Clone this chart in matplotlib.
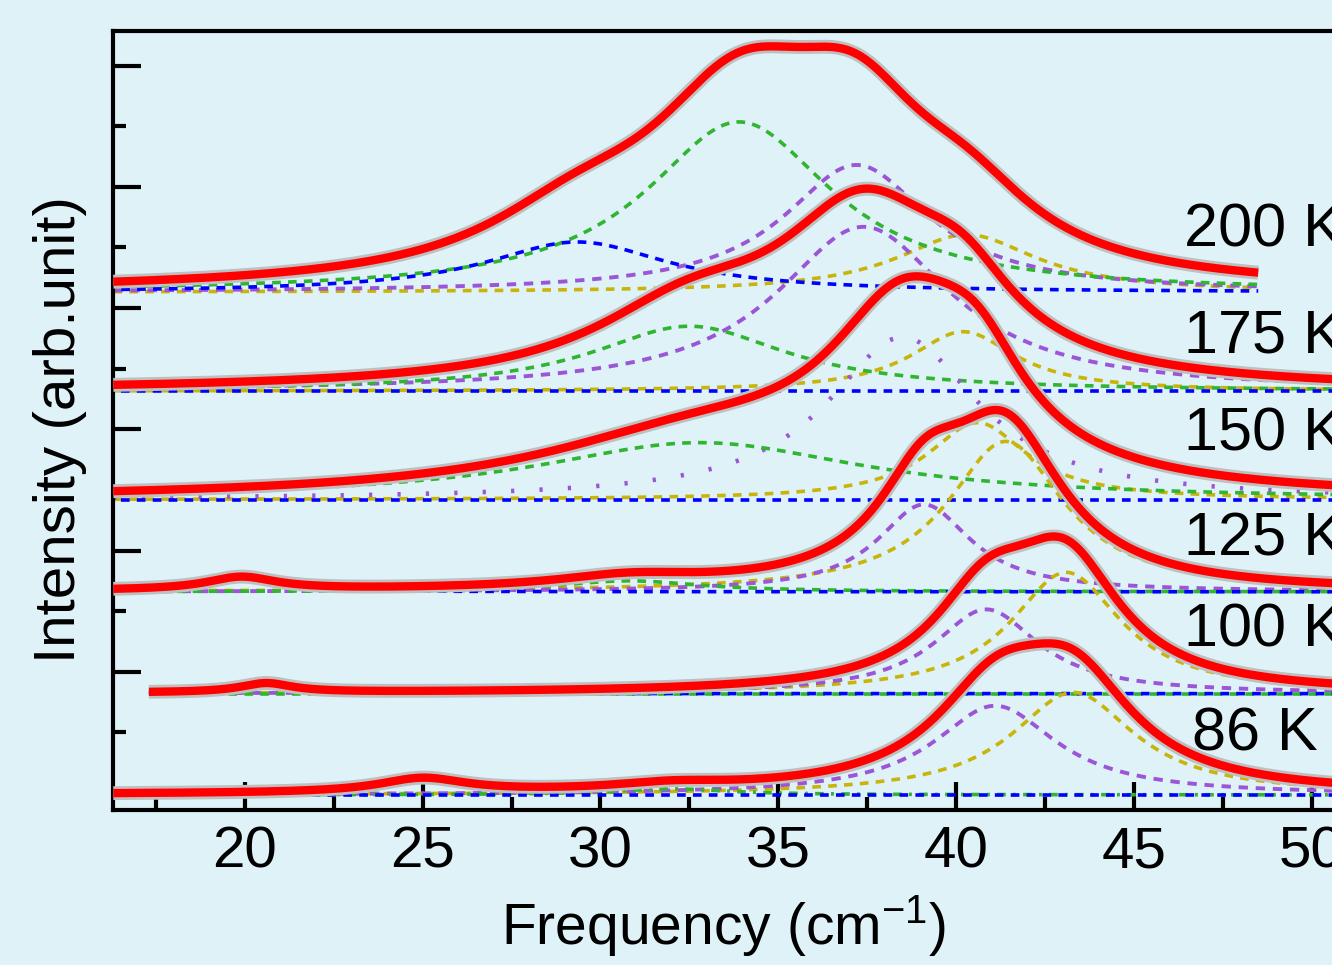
import numpy as np
import matplotlib.pyplot as plt

plt.rcParams['font.family'] = ['Liberation Sans', 'DejaVu Sans']
plt.rcParams['mathtext.default'] = 'regular'

# spectra, top to bottom
temps = ['200 K', '175 K', '150 K', '125 K', '100 K', '86 K']
baselines = [8.26, 6.63, 4.84, 3.32, 1.64, -0.03]
x_start = [16.3, 16.3, 16.3, 16.3, 17.3, 16.3]
x_end = [48.5, 50.7, 50.7, 50.7, 50.7, 50.7]
label_x = [46.4, 46.4, 46.4, 46.4, 46.4, 46.65]
label_y = [9.27, 7.52, 5.90, 4.17, 2.68, 0.96]

# fitted Lorentzian modes per spectrum: centre (cm-1), height, half width
blue_center = [29.35, 30.0, 30.0, 19.9, 20.6, 30.0]
blue_height = [0.83, 0.0, 0.0, 0.21, 0.15, 0.0]
blue_width = [3.15, 1.0, 1.0, 1.2, 0.9, 1.0]

green_center = [33.9, 32.5, 32.8, 30.8, 30.0, 32.0]
green_height = [2.81, 1.07, 0.94, 0.18, 0.0, 0.10]
green_width = [3.2, 3.35, 5.6, 2.5, 1.0, 2.0]

purple_center = [37.2, 37.4, 38.5, 39.1, 40.85, 41.1]
purple_height = [2.10, 2.71, 2.68, 1.44, 1.39, 1.47]
purple_width = [2.5, 3.0, 2.6, 1.6, 1.8, 2.1]

yellow_center = [40.3, 40.2, 40.6, 41.4, 43.1, 43.3]
yellow_height = [0.95, 0.98, 1.27, 2.48, 2.0, 1.69]
yellow_width = [2.4, 1.8, 1.7, 2.0, 1.9, 2.1]

# weak mode hidden under the fit line
extra_center = [25.0, 25.0, 25.0, 25.0, 25.0, 25.0]
extra_height = [0.0, 0.0, 0.0, 0.0, 0.0, 0.23]
extra_width = [1.5, 1.5, 1.5, 1.5, 1.5, 1.5]

BLUE = '#0000ff'
GREEN = '#2fb52f'
PURPLE = '#9b55d6'
YELLOW = '#c8b40a'
DASH = (0, (2.4, 2.0))


def lorentz(x, c, h, w):
    return h / (1.0 + ((x - c) / w) ** 2)


fig = plt.figure(figsize=(13.32, 9.65), dpi=100)
fig.patch.set_facecolor('#def2f8')
ax = fig.add_axes([0.0848, 0.1606, 0.9164, 0.8073])
ax.set_facecolor('none')

for i in range(len(temps)):
    x = np.linspace(x_start[i], x_end[i], 800)
    b = baselines[i]
    yb = lorentz(x, blue_center[i], blue_height[i], blue_width[i])
    yg = lorentz(x, green_center[i], green_height[i], green_width[i])
    yp = lorentz(x, purple_center[i], purple_height[i], purple_width[i])
    yy = lorentz(x, yellow_center[i], yellow_height[i], yellow_width[i])
    ye = lorentz(x, extra_center[i], extra_height[i], extra_width[i])

    if temps[i] == '150 K':
        p_ls, p_lw = (0, (0.7, 5.5)), 3.3
    else:
        p_ls, p_lw = DASH, 2.8
    g_ls = (0, (2.4, 2.0, 0.8, 2.0)) if temps[i] == '86 K' else DASH

    ax.plot(x, b + yy, color=YELLOW, lw=2.6, ls=DASH, zorder=2)
    ax.plot(x, b + yp, color=PURPLE, lw=p_lw, ls=p_ls, zorder=2)
    ax.plot(x, b + yg, color=GREEN, lw=2.6, ls=g_ls, zorder=2)
    ax.plot(x, b + yb, color=BLUE, lw=2.6, ls=(2.2, (2.4, 2.0)), zorder=2)

    fit = b + yb + yg + yp + yy + ye
    ax.plot(x, fit, color='#bfbfbf', lw=10, solid_capstyle='butt', zorder=3)
    ax.plot(x, fit, color='#ff0000', lw=6, solid_capstyle='butt', zorder=4)

    ax.text(label_x[i], label_y[i], temps[i], fontsize=44, ha='left',
            va='center', clip_on=False, zorder=5)

ax.set_xlim(16.29, 50.62)
ax.set_ylim(-0.28, 12.57)
ax.set_xticks([20, 25, 30, 35, 40, 45, 50])
ax.set_xticks([17.5, 22.5, 27.5, 32.5, 37.5, 42.5, 47.5], minor=True)
ax.set_yticks([0, 2, 4, 6, 8, 10, 12])
ax.set_yticks([1, 3, 5, 7, 9, 11], minor=True)
ax.set_yticklabels([])

ax.tick_params(which='both', direction='in', width=3, colors='black',
               labelsize=42, top=False, right=False)
ax.tick_params(which='major', length=20)
ax.tick_params(which='minor', length=9.5)
ax.tick_params(axis='x', which='major', pad=11)
ax.tick_params(axis='y', which='both', pad=0)

for side in ['left', 'bottom', 'top']:
    ax.spines[side].set_linewidth(3)
ax.spines['right'].set_visible(False)

ax.set_xlabel('Frequency (cm$^{-1}$)', fontsize=41, labelpad=10)
ax.set_ylabel('Intensity (arb.unit)', fontsize=42)
ax.yaxis.set_label_coords(-0.021, 0.488)

fig.savefig('out.png', dpi=100, facecolor=fig.get_facecolor())
